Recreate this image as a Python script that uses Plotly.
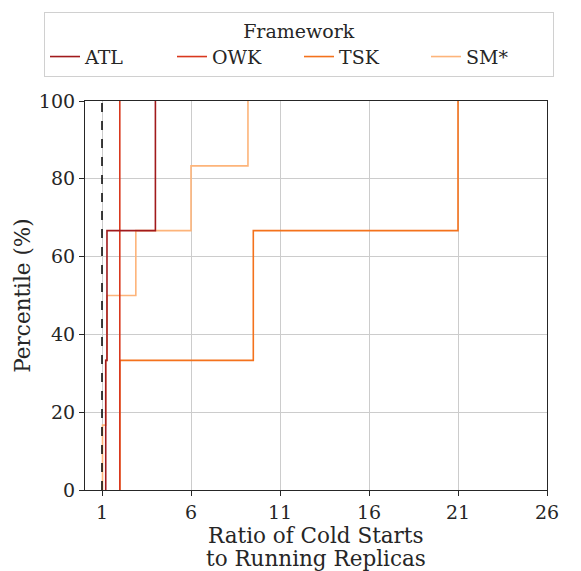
import plotly.graph_objects as go

# Ratio of cold starts to running replicas, per framework
frameworks = ["ATL", "OWK", "TSK", "SM*"]
ratios = {
    "ATL": [1.21, 1.28, 4.0],
    "OWK": [2.0, 2.0, 2.0],
    "TSK": [2.0, 9.5, 21.0],
    "SM*": [1.03, 1.21, 1.28, 2.9, 6.0, 9.2],
}
colors = {
    "ATL": "#a11a1c",
    "OWK": "#d9381e",
    "TSK": "#f4721c",
    "SM*": "#fdb47a",
}
x_ticks = [1, 6, 11, 16, 21, 26]
y_ticks = [0, 20, 40, 60, 80, 100]
baseline_ratio = 1
x_title_lines = ["Ratio of Cold Starts", "to Running Replicas"]
y_title = "Percentile (%)"

FONT = "DejaVu Serif"
TEXT = "#262626"
TICK_SIZE = 19
LABEL_SIZE = 21.5

fig = go.Figure()

# ECDF step curves; first framework drawn last so it sits on top
for rank, name in reversed(list(enumerate(frameworks))):
    vals = sorted(ratios[name])
    n = len(vals)
    xs = [vals[0]] + vals
    ys = [0.0] + [100.0 * (i + 1) / n for i in range(n)]
    fig.add_trace(go.Scatter(
        x=xs, y=ys, mode="lines", name=name,
        line=dict(color=colors[name], width=1.6, shape="hv"),
        legendrank=rank + 1,
    ))

fig.add_vline(x=baseline_ratio, line=dict(color="black", width=1.5, dash="dash"))

# two-line x-axis title under the tick labels (tighter line spacing)
for i, line in enumerate(x_title_lines):
    fig.add_annotation(
        text=line, xref="paper", yref="paper", x=0.5, y=-0.1172 - i * 0.0591,
        xanchor="center", yanchor="middle", showarrow=False,
        font=dict(family=FONT, size=LABEL_SIZE, color=TEXT),
    )

fig.update_layout(
    width=581, height=571,
    margin=dict(l=85, r=34, t=101, b=81),
    paper_bgcolor="white", plot_bgcolor="white",
    font=dict(family=FONT, size=TICK_SIZE, color=TEXT),
    showlegend=True,
    legend=dict(
        orientation="h",
        x=-0.0888, xanchor="left",
        y=1.2288, yanchor="top",
        bordercolor="#d0d0d0", borderwidth=1,
        title=dict(text="Framework", side="top center", font=dict(size=TICK_SIZE)),
        font=dict(size=TICK_SIZE),
        entrywidth=82,
        traceorder="normal",
    ),
    xaxis=dict(
        range=[0.045, 26],
        tickvals=x_ticks,
        ticks="outside", ticklen=5, tickwidth=1.2, tickcolor=TEXT,
        showline=True, linecolor=TEXT, linewidth=1.2, mirror=True,
        showgrid=True, gridcolor="#cccccc", gridwidth=1,
        zeroline=False, automargin=False,
    ),
    yaxis=dict(
        range=[0, 100],
        tickvals=y_ticks,
        ticks="outside", ticklen=5, tickwidth=1.2, tickcolor=TEXT,
        showline=True, linecolor=TEXT, linewidth=1.2, mirror=True,
        showgrid=True, gridcolor="#cccccc", gridwidth=1,
        zeroline=False, automargin=False,
        title=dict(text=y_title, standoff=2, font=dict(size=LABEL_SIZE)),
    ),
)

fig.write_html("out.html")
